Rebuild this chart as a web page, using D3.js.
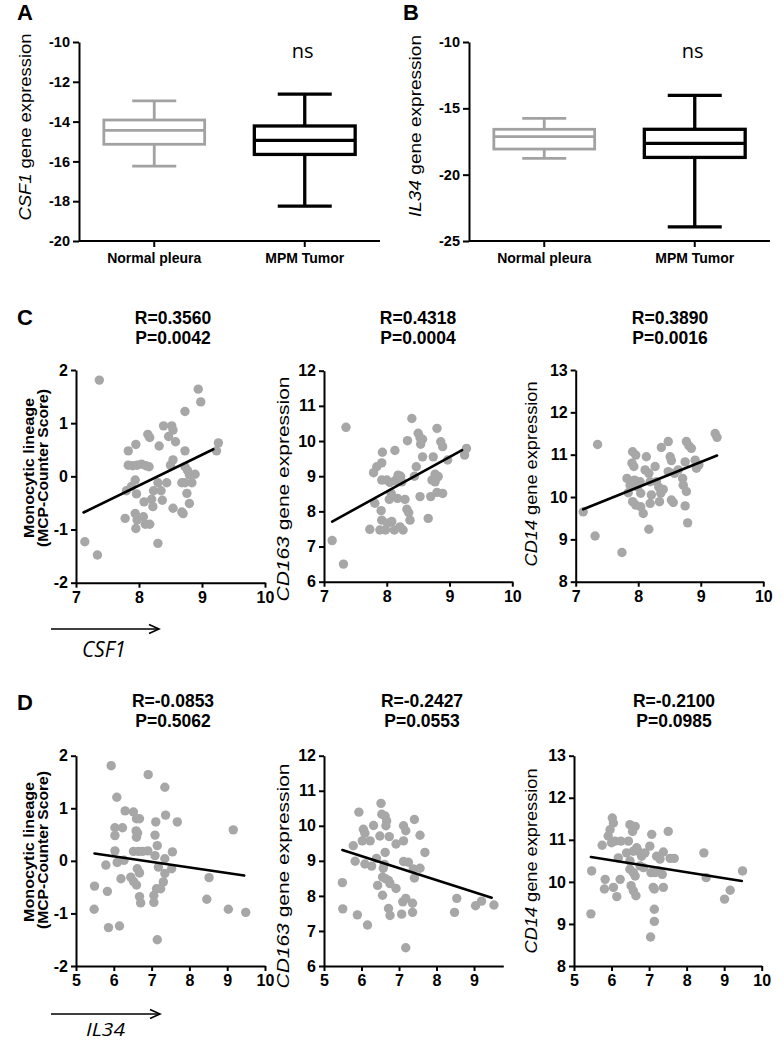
<!DOCTYPE html>
<html><head><meta charset="utf-8">
<script src="https://cdn.jsdelivr.net/npm/d3@7"></script>
<style>
body{margin:0;background:#fff;}
svg{display:block;}
</style></head><body>
<svg id="chart" width="784" height="1045"></svg>
<script>
// ---------------- DATA ----------------
const boxCategories = ["Normal pleura", "MPM Tumor"];
// [min, q1, median, q3, max]
const csf1Box = [[-16.24, -15.14, -14.44, -13.92, -12.96], [-18.25, -15.65, -14.94, -14.22, -12.62]];
const il34Box = [[-18.77, -18.07, -17.13, -16.58, -15.75], [-23.94, -18.70, -17.64, -16.58, -14.03]];
const csf1BoxTicks = [-10, -12, -14, -16, -18, -20];
const il34BoxTicks = [-10, -15, -20, -25];

const cTicksX = [7, 8, 9, 10];
const dTicksX = [5, 6, 7, 8, 9, 10];
const d2TicksX = [5, 6, 7, 8, 9];
const mcpTicks = [-2, -1, 0, 1, 2];
const cd163Ticks = [6, 7, 8, 9, 10, 11, 12];
const cd14Ticks = [8, 9, 10, 11, 12, 13];

// C1: CSF1 vs Monocytic lineage
const c1X = [7.37,8.94,8.98,8.73,8.14,8.17,8.39,8.52,8.54,8.47,8.58,8.32,7.95,8.73,7.83,9.26,9.23,7.83,7.90,7.97,8.04,8.11,8.16,8.54,8.50,8.73,8.77,8.80,8.89,7.94,8.30,8.44,7.80,7.88,7.96,8.23,8.35,8.68,8.73,8.84,8.76,8.08,8.20,8.22,8.37,8.80,7.78,7.94,7.97,8.07,8.54,8.68,8.70,7.95,8.10,8.17,8.30,7.14,7.34];
const c1Y = [1.81,1.64,1.40,1.22,0.79,0.73,0.95,0.95,0.87,0.75,0.65,0.57,0.60,0.48,0.48,0.63,0.48,0.21,0.20,0.21,0.23,0.20,0.18,0.31,0.21,0.18,0.11,0.03,0.04,-0.07,-0.12,-0.12,-0.27,-0.19,-0.33,-0.27,-0.27,-0.12,-0.12,-0.12,-0.32,-0.48,-0.43,-0.57,-0.45,-0.51,-0.79,-0.70,-0.82,-0.76,-0.60,-0.67,-0.70,-0.98,-0.90,-0.90,-1.26,-1.23,-1.48];
// C2: CSF1 vs CD163
const c2X = [7.35,7.13,7.31,7.73,7.81,7.79,7.84,7.92,7.93,7.92,7.91,7.92,7.89,7.98,8.01,8.00,8.05,8.07,8.04,8.08,8.12,8.13,8.18,8.13,8.17,8.22,8.24,8.21,8.26,8.29,8.33,8.32,8.35,8.37,8.40,8.44,8.47,8.50,8.53,8.57,8.54,8.53,8.57,8.66,8.70,8.72,8.77,8.74,8.77,8.80,8.80,8.82,8.89,8.86,8.89,8.97,9.24,9.27];
const c2Y = [10.39,7.17,6.50,7.49,8.23,9.10,9.27,9.38,9.68,8.89,8.02,7.75,7.47,7.47,7.66,8.89,8.82,8.51,8.34,7.71,7.47,8.87,9.03,9.73,8.37,9.00,8.84,7.56,7.47,8.34,10.01,8.06,7.96,7.75,10.64,9.00,9.27,10.22,10.09,10.05,9.91,8.42,9.55,7.80,8.42,8.89,8.84,9.55,9.06,8.54,10.36,8.99,8.51,9.98,9.84,9.46,9.60,9.79];
// C3: CSF1 vs CD14
const c3X = [7.35,7.12,7.31,7.74,7.91,7.96,7.90,7.93,7.82,7.87,7.94,7.99,8.03,7.84,7.91,7.96,8.04,8.08,8.04,8.13,8.11,8.17,8.19,8.21,8.19,8.17,8.27,8.29,8.33,8.36,8.40,8.34,8.37,8.48,8.48,8.51,8.53,8.53,8.56,8.58,8.64,8.71,8.72,8.75,8.77,8.81,8.75,8.77,8.79,8.85,8.91,8.93,8.97,9.23,9.26];
const c3Y = [11.24,9.65,9.08,8.69,11.07,10.99,10.80,10.72,10.44,10.28,10.40,10.24,10.36,10.10,9.89,9.81,9.77,9.61,10.09,10.95,10.64,10.56,10.36,10.05,9.85,9.24,10.72,10.36,10.23,10.09,10.18,9.89,11.17,11.31,10.60,10.95,10.86,9.93,9.87,10.56,10.64,10.44,10.28,9.79,11.31,11.21,10.83,10.13,9.39,11.15,10.87,10.68,10.76,11.50,11.41];
// D1: IL34 vs Monocytic lineage
const d1X = [5.93,6.91,6.08,7.35,6.30,6.52,6.60,6.68,7.37,7.68,7.11,6.03,6.23,6.03,6.59,6.63,6.60,7.09,7.15,6.03,6.09,5.79,6.27,6.52,6.65,6.76,6.90,7.09,7.35,7.18,7.55,7.53,6.19,6.45,6.52,6.62,6.68,6.60,7.35,7.31,7.24,7.13,7.06,6.68,6.71,7.06,5.49,5.83,5.48,5.86,6.15,7.15,8.52,8.46,9.03,9.16,9.49];
const d1Y = [1.81,1.64,1.21,1.40,0.95,0.93,0.80,0.80,0.87,0.74,0.74,0.63,0.63,0.48,0.57,0.53,0.45,0.49,0.29,0.19,-0.03,-0.08,0.01,0.18,0.18,0.18,0.19,0.10,0.04,-0.12,0.17,-0.15,-0.34,-0.31,-0.39,-0.15,-0.23,-0.46,-0.24,-0.40,-0.53,-0.53,-0.66,-0.68,-0.80,-0.79,-0.48,-0.58,-0.92,-1.27,-1.24,-1.50,-0.32,-0.73,-0.92,0.59,-0.98];
// D2: IL34 vs CD163
const d2X = [5.93,6.52,6.54,6.63,6.67,6.65,7.41,6.05,6.09,6.32,6.23,6.02,6.49,6.74,7.12,7.18,7.12,6.92,7.56,7.69,5.78,5.83,6.09,6.27,6.40,6.63,6.61,6.58,6.56,6.64,6.72,6.76,6.43,6.56,6.92,7.12,7.25,7.38,7.41,7.56,7.10,7.18,7.07,7.36,7.36,6.72,6.76,5.49,5.50,5.89,6.16,7.18,8.54,8.48,9.04,9.20,9.53];
const d2Y = [10.39,10.64,10.33,10.28,10.14,10.00,10.18,9.90,9.79,10.01,9.57,9.57,9.71,9.69,10.00,9.86,9.57,9.48,9.73,9.24,9.43,8.99,8.91,8.85,9.07,9.24,8.90,8.79,8.54,8.49,8.44,8.35,8.30,8.02,8.21,8.98,8.96,8.77,8.51,8.79,7.83,7.93,7.48,7.79,7.53,7.64,7.44,8.38,7.63,7.46,7.17,6.52,7.93,7.53,7.72,7.85,7.74];
// D3: IL34 vs CD14
const d3X = [5.47,5.45,5.75,5.83,5.81,5.91,5.96,6.02,6.05,6.00,6.09,6.05,6.14,6.23,6.18,6.25,6.45,6.49,6.56,6.63,6.40,6.49,6.58,6.67,6.49,6.58,6.63,6.52,6.58,6.65,6.71,6.80,6.76,6.85,6.89,7.02,7.07,7.05,7.16,7.25,7.11,7.14,7.14,7.14,7.04,7.20,7.29,7.35,7.38,7.38,7.51,7.56,7.67,8.46,8.52,9.01,9.16,9.49];
const d3Y = [10.26,9.24,10.87,10.06,9.83,11.09,11.24,11.52,11.40,10.93,10.97,9.87,9.65,10.06,10.57,10.97,10.97,11.36,11.20,11.32,10.69,10.50,10.73,10.81,10.30,10.22,10.14,9.91,9.79,9.67,10.73,10.61,10.38,10.34,10.69,10.85,11.13,10.22,10.22,10.26,9.87,9.83,9.35,9.06,8.69,10.61,10.54,10.18,10.71,9.87,11.20,10.56,10.56,10.69,10.10,9.59,9.80,10.26];

// linear fit end points [x0,x1] / [y0,y1]
const c1FitX = [7.12, 9.18], c1FitY = [-0.68, 0.51];
const c2FitX = [7.13, 9.20], c2FitY = [7.71, 9.74];
const c3FitX = [7.12, 9.26], c3FitY = [9.71, 10.98];
const d1FitX = [5.49, 9.45], d1FitY = [0.14, -0.28];
const d2FitX = [5.49, 9.47], d2FitY = [9.31, 7.95];
const d3FitX = [5.45, 9.47], d3FitY = [10.59, 10.02];

const cStats = [["R=0.3560", "P=0.0042"], ["R=0.4318", "P=0.0004"], ["R=0.3890", "P=0.0016"]];
const dStats = [["R=-0.0853", "P=0.5062"], ["R=-0.2427", "P=0.0553"], ["R=-0.2100", "P=0.0985"]];

// ---------------- DRAWING ----------------
const FONT = '"Liberation Sans", Arial, Helvetica, sans-serif';
const svg = d3.select("#chart");
const POINT = "#a7a7a7";

function styleAxis(g, fs) {
  g.attr("font-family", FONT).attr("font-size", fs).attr("font-weight", "bold");
  g.select(".domain").attr("stroke", "#000").attr("stroke-width", 2);
  g.selectAll(".tick line").attr("stroke", "#000").attr("stroke-width", 2);
  g.selectAll(".tick text").attr("fill", "#000");
}

function yLabel(x, y, parts, fs, len, bold) {
  const t = svg.append("text")
    .attr("transform", `translate(${x},${y}) rotate(-90)`)
    .attr("text-anchor", "middle").attr("fill", "#000")
    .attr("font-family", FONT).attr("font-size", fs)
    .attr("font-weight", bold ? "bold" : "normal")
    .attr("textLength", len).attr("lengthAdjust", "spacingAndGlyphs");
  parts.forEach(p => t.append("tspan").attr("fill", "#000").attr("font-style", p[1] ? "italic" : "normal").text(p[0]));
}

function panelLetter(x, y, s) {
  svg.append("text").attr("x", x).attr("y", y).attr("font-family", FONT).attr("fill", "#000")
    .attr("font-size", 22).attr("font-weight", "bold").text(s);
}

function boxPanel(cfg) {
  const x = d3.scaleBand().domain(boxCategories).range([cfg.left, cfg.right]);
  const y = d3.scaleLinear().domain(cfg.yDomain).range([cfg.bottom, cfg.top]);
  const gy = svg.append("g").attr("transform", `translate(${cfg.left},0)`)
    .call(d3.axisLeft(y).tickValues(cfg.ticks).tickSize(6).tickSizeOuter(0).tickPadding(3).tickFormat(d => String(d)));
  styleAxis(gy, 14.5);
  const gx = svg.append("g").attr("transform", `translate(0,${cfg.bottom})`)
    .call(d3.axisBottom(x).tickSize(6).tickSizeOuter(0).tickPadding(6));
  styleAxis(gx, 14);
  gx.select(".domain").attr("d", `M${cfg.left},0H${cfg.right}`);

  const styles = [{ c: "#a2a2a2", w: 2.8, cap: 44 }, { c: "#000", w: 3.3, cap: 54 }];
  cfg.stats.forEach((s, i) => {
    const cx = x(boxCategories[i]) + x.bandwidth() / 2;
    const bw = x.bandwidth() * 0.67;
    const st = styles[i];
    const g = svg.append("g").attr("stroke", st.c).attr("stroke-width", st.w).attr("fill", "none");
    g.append("line").attr("x1", cx).attr("x2", cx).attr("y1", y(s[3])).attr("y2", y(s[4]));
    g.append("line").attr("x1", cx).attr("x2", cx).attr("y1", y(s[1])).attr("y2", y(s[0]));
    g.append("line").attr("x1", cx - st.cap / 2).attr("x2", cx + st.cap / 2).attr("y1", y(s[4])).attr("y2", y(s[4]));
    g.append("line").attr("x1", cx - st.cap / 2).attr("x2", cx + st.cap / 2).attr("y1", y(s[0])).attr("y2", y(s[0]));
    g.append("rect").attr("x", cx - bw / 2).attr("width", bw).attr("y", y(s[3])).attr("height", y(s[1]) - y(s[3]));
    g.append("line").attr("x1", cx - bw / 2).attr("x2", cx + bw / 2).attr("y1", y(s[2])).attr("y2", y(s[2]));
  });
  svg.append("text").attr("x", x(boxCategories[1]) + x.bandwidth() / 2 - 2).attr("y", 58)
    .attr("text-anchor", "middle").attr("font-family", '"Open Sans", "Noto Sans", sans-serif')
    .attr("fill", "#000").attr("font-size", 20).text("ns");
}

function scatter(cfg) {
  const x = d3.scaleLinear().domain(cfg.xDomain).range([cfg.left, cfg.right]);
  const y = d3.scaleLinear().domain(cfg.yDomain).range([cfg.bottom, cfg.top]);
  const gy = svg.append("g").attr("transform", `translate(${cfg.left},0)`)
    .call(d3.axisLeft(y).tickValues(cfg.yTicks).tickSize(5).tickSizeOuter(0).tickPadding(3).tickFormat(d => String(d)));
  styleAxis(gy, 16);
  const gx = svg.append("g").attr("transform", `translate(0,${cfg.bottom})`)
    .call(d3.axisBottom(x).tickValues(cfg.xTicks).tickSize(5).tickSizeOuter(0).tickPadding(4).tickFormat(d => String(d)));
  styleAxis(gx, 16);
  svg.append("g").selectAll("circle").data(d3.zip(cfg.xs, cfg.ys)).join("circle")
    .attr("cx", d => x(d[0])).attr("cy", d => y(d[1])).attr("r", 4.7).attr("fill", POINT);
  svg.append("line").attr("x1", x(cfg.fitX[0])).attr("x2", x(cfg.fitX[1]))
    .attr("y1", y(cfg.fitY[0])).attr("y2", y(cfg.fitY[1]))
    .attr("stroke", "#000").attr("stroke-width", 2.6).attr("stroke-linecap", "round");
  cfg.title.forEach((s, i) => {
    svg.append("text").attr("x", cfg.titleX).attr("y", cfg.titleY + i * 19.5)
      .attr("text-anchor", "middle").attr("font-family", FONT).attr("font-size", 17.5)
      .attr("fill", "#000").attr("font-weight", "bold").text(s);
  });
}

function arrowLabel(x0, x1, yA, txt, tx, ty, len, fs) {
  const g = svg.append("g").attr("stroke", "#000").attr("stroke-width", 1.6).attr("fill", "none");
  g.append("line").attr("x1", x0).attr("x2", x1).attr("y1", yA).attr("y2", yA);
  g.append("path").attr("d", `M${x1 - 10},${yA - 4.5}L${x1},${yA}L${x1 - 10},${yA + 4.5}`);
  svg.append("text").attr("x", tx).attr("y", ty).attr("font-family", '"Open Sans", "Noto Sans", sans-serif')
    .attr("fill", "#000").attr("font-style", "italic").attr("font-size", fs).attr("textLength", len)
    .attr("lengthAdjust", "spacingAndGlyphs").text(txt);
}

// Panel A
panelLetter(17, 20, "A");
boxPanel({ left: 79, right: 380, top: 42, bottom: 241, yDomain: [-20, -10], ticks: csf1BoxTicks, stats: csf1Box });
yLabel(31, 127, [["CSF1", true], [" gene expression", false]], 17, 187, false);
// Panel B
panelLetter(403, 20, "B");
boxPanel({ left: 469, right: 770, top: 42, bottom: 241, yDomain: [-25, -10], ticks: il34BoxTicks, stats: il34Box });
yLabel(421, 126, [["IL34", true], [" gene expression", false]], 17, 182, false);

// Panel C
panelLetter(17, 325, "C");
scatter({ left: 76, right: 265, top: 370, bottom: 582.7, xDomain: [7, 10], yDomain: [-2, 2], xTicks: cTicksX, yTicks: mcpTicks, xs: c1X, ys: c1Y, fitX: c1FitX, fitY: c1FitY, title: cStats[0], titleX: 173, titleY: 324 });
scatter({ left: 324, right: 512.3, top: 370.7, bottom: 581.7, xDomain: [7, 10], yDomain: [6, 12], xTicks: cTicksX, yTicks: cd163Ticks, xs: c2X, ys: c2Y, fitX: c2FitX, fitY: c2FitY, title: cStats[1], titleX: 418, titleY: 324 });
scatter({ left: 575.7, right: 763.3, top: 370, bottom: 581.7, xDomain: [7, 10], yDomain: [8, 13], xTicks: cTicksX, yTicks: cd14Ticks, xs: c3X, ys: c3Y, fitX: c3FitX, fitY: c3FitY, title: cStats[2], titleX: 670, titleY: 324 });
yLabel(34, 468, [["Monocytic lineage", false]], 14.5, 140, true);
yLabel(48, 468, [["(MCP-Counter Score)", false]], 14.5, 158, true);
yLabel(289, 489, [["CD163", true], [" gene expression", false]], 16, 225, false);
yLabel(537, 474, [["CD14", true], [" gene expression", false]], 16, 185, false);
arrowLabel(51, 159, 629, "CSF1", 82, 657, 44, 21);

// Panel D
panelLetter(17, 710, "D");
scatter({ left: 76, right: 265, top: 755.7, bottom: 966, xDomain: [5, 10], yDomain: [-2, 2], xTicks: dTicksX, yTicks: mcpTicks, xs: d1X, ys: d1Y, fitX: d1FitX, fitY: d1FitY, title: dStats[0], titleX: 173, titleY: 707 });
scatter({ left: 324, right: 503.3, top: 755.7, bottom: 966, xDomain: [5, 9.78], yDomain: [6, 12], xTicks: d2TicksX, yTicks: cd163Ticks, xs: d2X, ys: d2Y, fitX: d2FitX, fitY: d2FitY, title: dStats[1], titleX: 422, titleY: 707 });
scatter({ left: 574, right: 761.7, top: 755.7, bottom: 966, xDomain: [5, 10], yDomain: [8, 13], xTicks: dTicksX, yTicks: cd14Ticks, xs: d3X, ys: d3Y, fitX: d3FitX, fitY: d3FitY, title: dStats[2], titleX: 674, titleY: 707 });
yLabel(34, 852, [["Monocytic lineage", false]], 14.5, 140, true);
yLabel(48, 850, [["(MCP-Counter Score)", false]], 14.5, 158, true);
yLabel(289, 876, [["CD163", true], [" gene expression", false]], 16, 225, false);
yLabel(537, 861, [["CD14", true], [" gene expression", false]], 16, 185, false);
arrowLabel(51, 160, 1014, "IL34", 86, 1036, 39, 19);
</script>
</body></html>
